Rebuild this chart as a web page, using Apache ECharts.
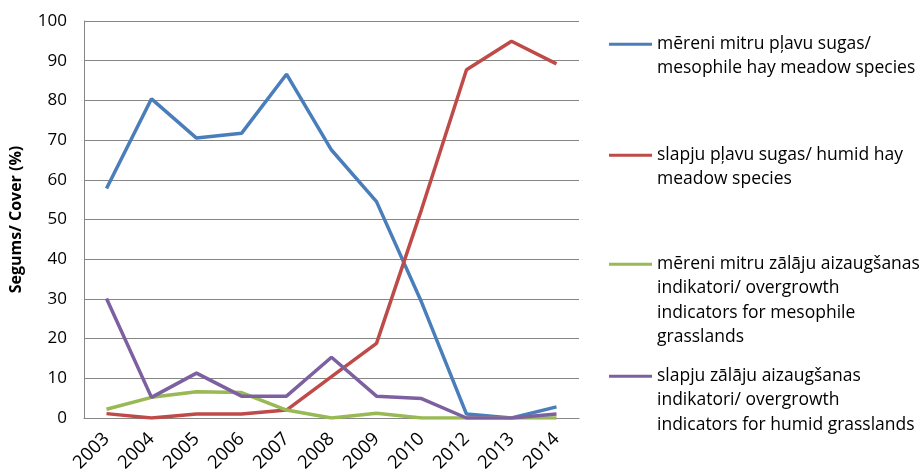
<!DOCTYPE html>
<html><head><meta charset="utf-8">
<script src="https://cdn.jsdelivr.net/npm/echarts@6/dist/echarts.min.js"></script>
<style>html,body{margin:0;padding:0;background:#fff}#c{width:919px;height:475px}</style>
</head><body><div id="c"></div>
<script>
const years = ['2003','2004','2005','2006','2007','2008','2009','2010','2012','2013','2014'];
const mesophileSpecies = [57.8, 80.4, 70.5, 71.7, 86.6, 67.5, 54.5, 29.2, 1.0, 0, 2.8];
const humidSpecies = [1.1, 0, 1.0, 1.0, 2.0, 10.4, 18.8, 52.5, 87.7, 94.9, 89.2];
const mesophileOvergrowth = [2.2, 5.2, 6.6, 6.4, 2.0, 0, 1.2, 0, 0, 0, 0];
const humidOvergrowth = [30.1, 5.2, 11.3, 5.5, 5.5, 15.3, 5.5, 4.9, 0, 0, 1.0];
const names = [
  'mēreni mitru pļavu sugas/\nmesophile hay meadow species',
  'slapju pļavu sugas/ humid hay\nmeadow species',
  'mēreni mitru zālāju aizaugšanas\nindikatori/ overgrowth\nindicators for mesophile\ngrasslands',
  'slapju zālāju aizaugšanas\nindikatori/ overgrowth\nindicators for humid grasslands'
];
const colors = ['#4A7EBB', '#BE4B48', '#98B954', '#7D60A0'];
const yTicks = [0,10,20,30,40,50,60,70,80,90,100];
const font = 'Open Sans';
const allData = [mesophileSpecies, humidSpecies, mesophileOvergrowth, humidOvergrowth];
const firstLineY = [43, 154, 263, 375];
const LH = 24.3;
const chart = echarts.init(document.getElementById('c'));
chart.setOption({
  animation: false,
  color: colors,
  grid: {left: 84, right: 340, top: 21, bottom: 57},
  xAxis: {
    type: 'category', data: years, boundaryGap: true,
    axisLine: {lineStyle: {color: '#868686', width: 1}},
    axisTick: {show: false},
    axisLabel: {rotate: 45, color: '#000', fontFamily: font, fontSize: 18.5, margin: 18}
  },
  yAxis: {
    type: 'value', min: yTicks[0], max: yTicks[yTicks.length-1], interval: 10,
    name: 'Segums/ Cover (%)', nameLocation: 'middle', nameGap: 60,
    nameTextStyle: {fontFamily: font, fontWeight: 'bold', fontSize: 16, color: '#000'},
    axisLine: {show: true, lineStyle: {color: '#868686', width: 1}},
    axisTick: {show: false},
    splitLine: {lineStyle: {color: '#868686', width: 1}},
    axisLabel: {color: '#000', fontFamily: font, fontSize: 17, margin: 17}
  },
  legend: names.map((n, i) => {
    const k = n.split('\n').length;
    return {
      data: [n], left: 609, top: firstLineY[i] - 11 - (k-1)*LH, orient: 'vertical',
      padding: 0, itemWidth: 43, itemHeight: 22, itemGap: 0,
      icon: 'path://M0,9.5 L43,9.5 L43,12.5 L0,12.5 Z',
      formatter: name => '\n'.repeat(name.split('\n').length - 1) + name,
      textStyle: {fontFamily: font, fontSize: 17.5, color: '#000', lineHeight: LH}
    };
  }),
  series: names.map((n, i) => ({
    name: n, type: 'line', data: allData[i], symbol: 'none',
    lineStyle: {width: 3.5, color: colors[i]}, itemStyle: {color: colors[i]}
  }))
});
</script></body></html>
